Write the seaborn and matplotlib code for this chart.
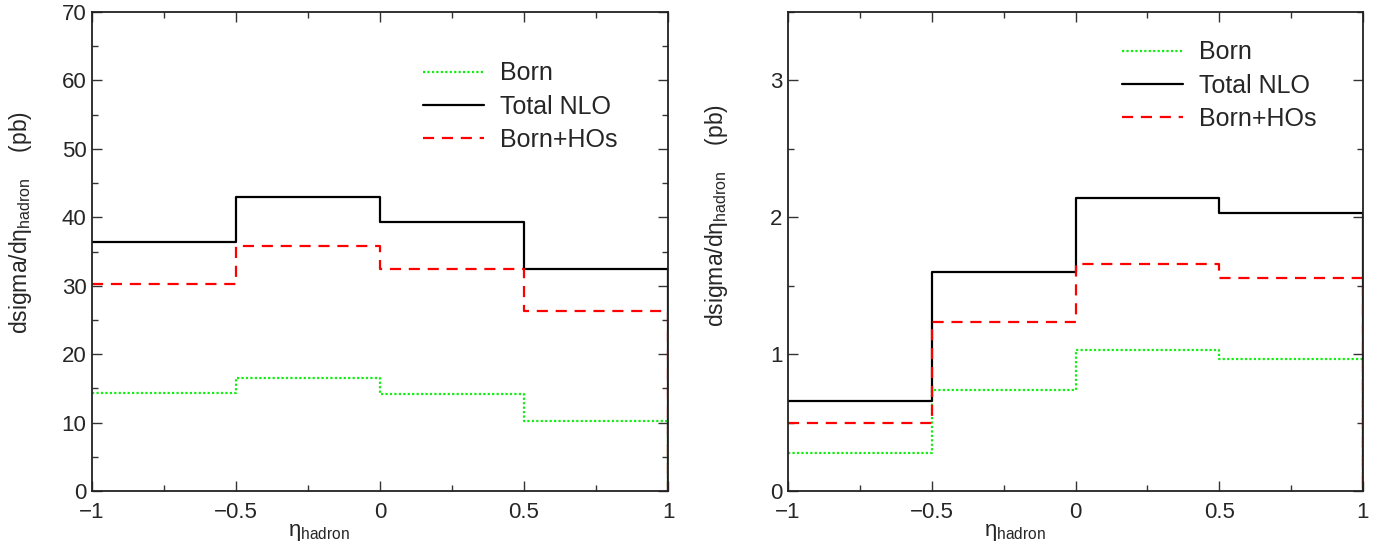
import numpy as np
import pandas as pd
import matplotlib
matplotlib.use("Agg")
import matplotlib.pyplot as plt
import seaborn as sns
from matplotlib.ticker import MultipleLocator

# Bin edges and values
bin_edges = [-1.0, -0.5, 0.0, 0.5, 1.0]
series_names = ["Born", "Total NLO", "Born+HOs"]

left_born = [14.3, 16.5, 14.2, 10.3]
left_nlo = [36.4, 42.9, 39.3, 32.5]
left_hos = [30.2, 35.8, 32.4, 26.3]

right_born = [0.28, 0.74, 1.03, 0.965]
right_nlo = [0.655, 1.60, 2.14, 2.03]
right_hos = [0.50, 1.235, 1.66, 1.56]

x_tick_labels = ["\u22121", "\u22120.5", "0", "0.5", "1"]

colors = {"Born": "#11ee11", "Total NLO": "#000000", "Born+HOs": "#ff0000"}
styles = {"Born": (0, (1, 1)), "Total NLO": "-", "Born+HOs": (0, (5, 3.5))}

sns.set_theme(style="ticks")
plt.rcParams["font.family"] = ["Liberation Sans", "DejaVu Sans"]
plt.rcParams["mathtext.fontset"] = "custom"
plt.rcParams["mathtext.rm"] = "Liberation Sans"
plt.rcParams["mathtext.it"] = "Liberation Sans"
plt.rcParams["mathtext.default"] = "rm"


def step_frame(values, name):
    xs = list(bin_edges[:-1]) + [bin_edges[-1], bin_edges[-1]]
    ys = list(values) + [values[-1], 0.0]
    return pd.DataFrame({"x": xs, "y": ys, "series": name})


fig = plt.figure(figsize=(13.88, 5.5), dpi=100)
ax1 = fig.add_axes([92 / 1388, 1 - 491 / 550, (668 - 92) / 1388, (491 - 12) / 550])
ax2 = fig.add_axes([788 / 1388, 1 - 491 / 550, (1363 - 788) / 1388, (491 - 12) / 550])

panels = [
    (ax1, {"Born": left_born, "Total NLO": left_nlo, "Born+HOs": left_hos}, 70, 10, 5,
     (0.575, 0.897), 0.56),
    (ax2, {"Born": right_born, "Total NLO": right_nlo, "Born+HOs": right_hos}, 3.5, 1, 0.5,
     (0.581, 0.941), 0.575),
]

for ax, data, ymax, major, minor, leg_anchor, ylab_y in panels:
    for name in series_names:
        df = step_frame(data[name], name)
        sns.lineplot(data=df, x="x", y="y", ax=ax, sort=False, estimator=None,
                     drawstyle="steps-post", color=colors[name],
                     linestyle=styles[name], linewidth=1.6, label=name)
    ax.set_xlim(-1, 1)
    ax.set_ylim(0, ymax)
    ax.xaxis.set_minor_locator(MultipleLocator(0.25))
    ax.yaxis.set_major_locator(MultipleLocator(major))
    ax.yaxis.set_minor_locator(MultipleLocator(minor))
    ax.set_xticks(bin_edges)
    ax.set_xticklabels(x_tick_labels)
    ax.tick_params(which="both", direction="in", top=True, right=True,
                   labelsize=16, color="#333333", width=1)
    ax.tick_params(which="major", length=7)
    ax.tick_params(axis="x", which="major", pad=8)
    ax.tick_params(axis="y", which="major", pad=4)
    ax.tick_params(which="minor", length=4)
    for sp in ax.spines.values():
        sp.set_visible(True)
        sp.set_linewidth(1.3)
        sp.set_color("#222222")
    ax.set_xlabel(r"$\eta_{\mathrm{hadron}}$", fontsize=16)
    ax.xaxis.set_label_coords(0.395, -0.065)
    ax.set_ylabel(r"dsigma/d$\eta_{\mathrm{hadron}}$    (pb)", fontsize=16.5)
    ax.yaxis.set_label_coords(-0.10, ylab_y)
    ax.legend(loc="upper left", bbox_to_anchor=leg_anchor, frameon=False,
              fontsize=18, handlelength=2.44, handletextpad=0.62,
              labelspacing=0.37, borderpad=0, borderaxespad=0)

fig.savefig("out.png", dpi=100)
